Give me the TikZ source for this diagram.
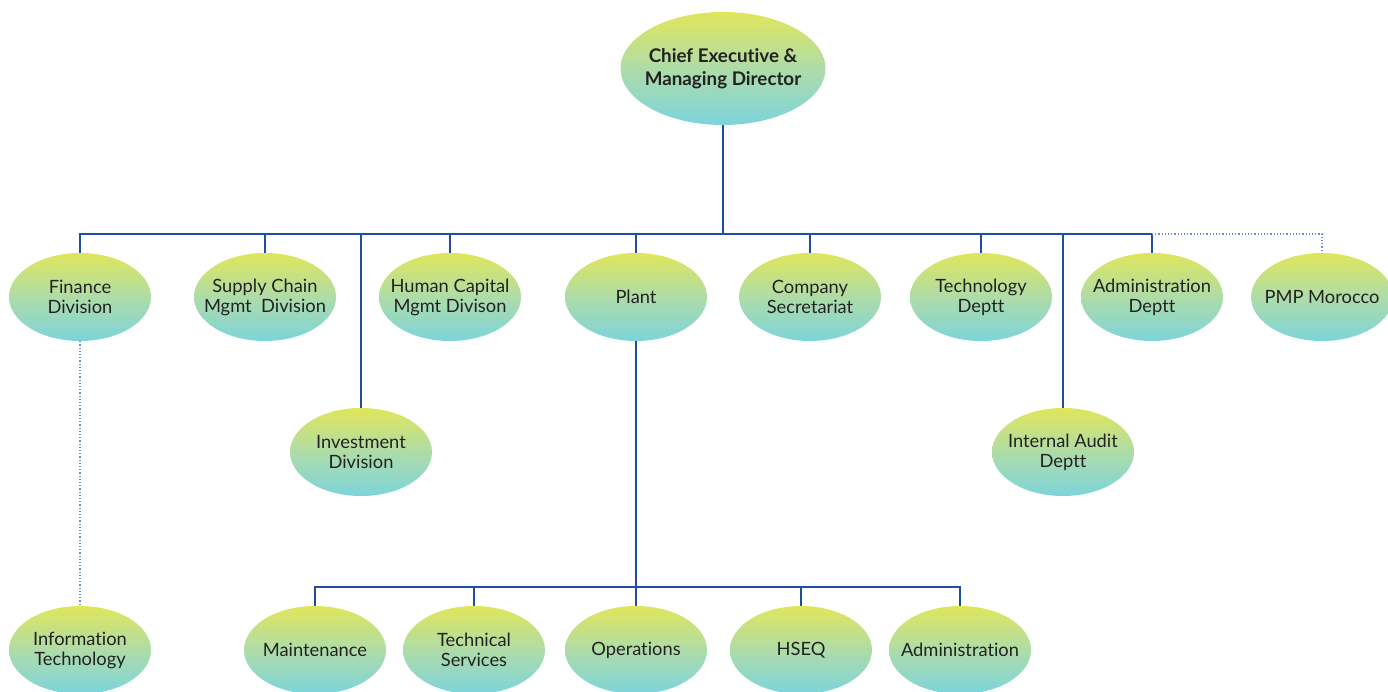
\documentclass[tikz,border=0pt]{standalone}
\usepackage{fontspec}
\setmainfont[Ligatures=NoCommon]{Lato}
\usetikzlibrary{shapes.geometric}
\definecolor{linec}{HTML}{1F4F9E}
\definecolor{dotc}{HTML}{6F8FC8}
\definecolor{topc}{HTML}{E0E65A}
\definecolor{midc}{HTML}{AEDCA8}
\definecolor{botc}{HTML}{7DD4DC}
\definecolor{txt}{HTML}{222222}
\tikzset{
  oval/.style={ellipse, minimum width=142pt, minimum height=88pt, inner sep=0pt,
    top color=topc, bottom color=botc, middle color=midc},
  bigoval/.style={oval, minimum width=205pt, minimum height=113pt},
  ovaltext/.style={align=center, inner sep=0pt, text=txt,
    font=\fontsize{18.3}{20}\selectfont},
  bigtext/.style={ovaltext, font=\fontsize{18.8}{23}\selectfont\bfseries},
  conn/.style={draw=linec, line width=1.25pt},
  dotconn/.style={draw=dotc, line width=1.2pt, dotted}
}
\newcommand\ovalnode[4][oval]{%
  \node[#1] (#2) at (#3) {};
  \node[ovaltext] (#2-t) at (#2.center) {#4};}
\begin{document}
\begin{tikzpicture}[x=1pt,y=-1pt]
\useasboundingbox (0,0) rectangle (1388,692);
\clip (0,0) rectangle (1388,692);
\coordinate (j) at (723,234);
\coordinate (pj) at (636,587);
\node[bigoval] (ceo) at (723,68.5) {};
\node[bigtext] (ceo-t) at (ceo.center) {Chief Executive \&\\Managing Director};
\ovalnode{fin}{80,297}{Finance\\Division}
\ovalnode{sc}{265,297}{Supply Chain\\Mgmt~ Division}
\ovalnode{hc}{450,297}{Human Capital\\Mgmt Divison}
\ovalnode{pl}{636,297}{Plant}
\ovalnode{cs}{810,297}{Company\\Secretariat}
\ovalnode{td}{981,297}{Technology\\Deptt}
\ovalnode{ad}{1152,297}{Administration\\Deptt}
\ovalnode{pmp}{1322,297}{PMP Morocco}
\ovalnode{inv}{361,452}{Investment\\Division}
\ovalnode{ia}{1063,452}{Internal Audit\\Deptt}
\ovalnode{it}{80,650}{Information\\Technology}
\ovalnode{mt}{315,650}{Maintenance}
\ovalnode{ts}{474,650}{Technical\\Services}
\ovalnode{op}{636,650}{Operations}
\ovalnode{hs}{801,650}{HSEQ}
\ovalnode{adm}{960,650}{Administration}
% main bus
\draw[conn] (ceo.south) -- (j);
\draw[conn] (fin.north) -- (fin.north |- j) -- (ad.north |- j) -- (ad.north);
\foreach \n in {sc,hc,pl,cs,td} \draw[conn] (\n.north) -- (\n.north |- j);
\draw[conn] (inv.north) -- (inv.north |- j);
\draw[conn] (ia.north) -- (ia.north |- j);
\draw[dotconn] (ad.north |- j) -- (pmp.north |- j) -- (pmp.north);
\draw[dotconn] (fin.south) -- (it.north);
% plant bus
\draw[conn] (pl.south) -- (pj);
\draw[conn] (mt.north) -- (mt.north |- pj) -- (adm.north |- pj) -- (adm.north);
\foreach \n in {ts,op,hs} \draw[conn] (\n.north) -- (\n.north |- pj);
\end{tikzpicture}
\end{document}
